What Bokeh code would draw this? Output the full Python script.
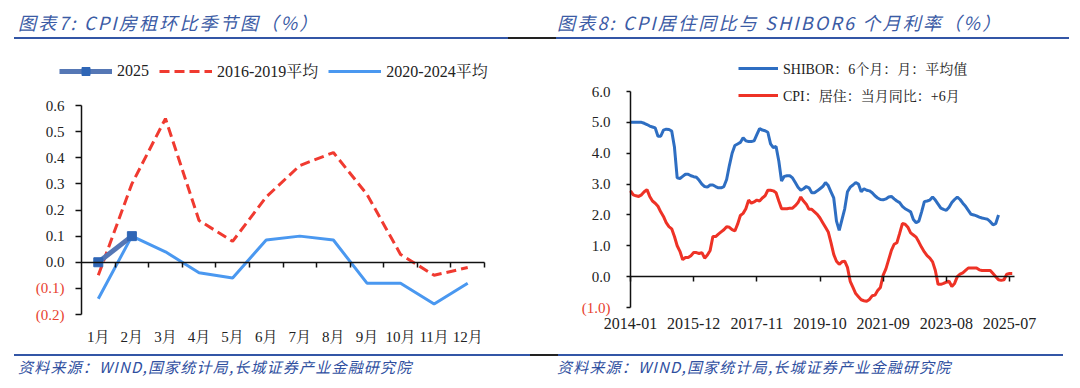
import numpy as np
from bokeh.plotting import figure
from bokeh.models import (ColumnDataSource, Legend, LegendItem, FixedTicker, LinearAxis,
                          Label, Div, Range1d, CustomJSTickFormatter)
from bokeh.layouts import column, row
from bokeh.embed import file_html
from bokeh.resources import INLINE

# ---------------- Left chart data: CPI rent m/m seasonal pattern (%)
month_labels = ["1月", "2月", "3月", "4月", "5月", "6月", "7月", "8月", "9月", "10月", "11月", "12月"]
rent_2025 = [0.0, 0.1]
rent_avg_2016_2019 = [-0.05, 0.30, 0.55, 0.16, 0.08, 0.25, 0.37, 0.42, 0.26, 0.03, -0.05, -0.02]
rent_avg_2020_2024 = [-0.14, 0.10, 0.04, -0.04, -0.06, 0.085, 0.10, 0.085, -0.08, -0.08, -0.16, -0.08]
left_yticks = [-0.2, -0.1, 0.0, 0.1, 0.2, 0.3, 0.4, 0.5, 0.6]
left_ytick_labels = ["(0.2)", "(0.1)", "0.0", "0.1", "0.2", "0.3", "0.4", "0.5", "0.6"]
left_names = ["2025", "2016-2019平均", "2020-2024平均"]

# ---------------- Right chart data: monthly from 2014-01
start_year, start_month = 2014, 1
shibor_6m = [
    5.00, 5.00, 5.00, 5.00, 5.00, 4.97, 4.93, 4.88, 4.85, 4.82,
    4.55, 4.55, 4.75, 4.78, 4.77, 4.72, 4.20, 3.20, 3.18, 3.25,
    3.32, 3.32, 3.27, 3.24, 3.22, 3.12, 3.00, 2.92, 2.90, 2.97,
    2.97, 2.92, 2.88, 2.88, 2.92, 3.15, 3.60, 4.00, 4.25, 4.30,
    4.35, 4.50, 4.40, 4.38, 4.38, 4.40, 4.60, 4.80, 4.75, 4.73,
    4.68, 4.30, 4.18, 4.22, 3.75, 3.10, 3.25, 3.27, 3.27, 3.20,
    3.05, 2.90, 2.80, 2.85, 2.92, 2.88, 2.72, 2.72, 2.78, 2.85,
    2.92, 3.05, 2.95, 2.75, 2.55, 1.80, 1.50, 1.85, 2.20, 2.75,
    2.90, 2.97, 3.05, 3.00, 2.75, 2.85, 2.80, 2.78, 2.72, 2.62,
    2.55, 2.50, 2.49, 2.52, 2.58, 2.60, 2.52, 2.45, 2.40, 2.28,
    2.20, 2.15, 2.10, 1.85, 1.75, 1.80, 2.10, 2.43, 2.45, 2.48,
    2.58, 2.48, 2.35, 2.22, 2.18, 2.15, 2.25, 2.40, 2.50, 2.58,
    2.50, 2.38, 2.28, 2.15, 2.02, 2.00, 1.97, 1.93, 1.90, 1.88,
    1.86, 1.78, 1.68, 1.72, 2.00,
]
cpi_housing_yoy_lead6 = [
    2.78, 2.65, 2.62, 2.60, 2.65, 2.75, 2.82, 2.60, 2.45, 2.38,
    2.28, 2.10, 1.95, 1.75, 1.62, 1.55, 1.30, 1.00, 0.82, 0.55,
    0.62, 0.62, 0.68, 0.78, 0.78, 0.75, 0.78, 0.60, 0.70, 0.85,
    1.30, 1.30, 1.38, 1.45, 1.52, 1.62, 1.60, 1.52, 1.48, 1.70,
    1.98, 2.05, 2.20, 2.48, 2.38, 2.42, 2.48, 2.45, 2.55, 2.62,
    2.80, 2.80, 2.78, 2.72, 2.45, 2.20, 2.20, 2.20, 2.22, 2.22,
    2.30, 2.40, 2.58, 2.45, 2.35, 2.18, 2.18, 2.10, 2.02, 1.90,
    1.75, 1.60, 1.45, 1.10, 0.72, 0.50, 0.40, 0.48, 0.50, 0.30,
    -0.15, -0.35, -0.55, -0.65, -0.75, -0.78, -0.80, -0.74, -0.62, -0.60,
    -0.45, -0.35, 0.05, 0.25, 0.55, 0.85, 1.05, 1.10, 1.40, 1.72,
    1.70, 1.60, 1.42, 1.35, 1.28, 1.12, 0.95, 0.80, 0.68, 0.60,
    0.48, 0.20, -0.25, -0.25, -0.22, -0.18, -0.15, -0.32, -0.22, 0.00,
    0.08, 0.12, 0.20, 0.28, 0.28, 0.28, 0.28, 0.22, 0.20, 0.20,
    0.20, 0.20, 0.10, 0.00, -0.10, -0.12, -0.10, 0.08, 0.10, 0.10,
]
right_xtick_labels = ["2014-01", "2015-12", "2017-11", "2019-10", "2021-09", "2023-08", "2025-07"]
right_yticks = [-1, 0, 1, 2, 3, 4, 5, 6]
right_ytick_labels = ["(1.0)", "0.0", "1.0", "2.0", "3.0", "4.0", "5.0", "6.0"]
right_names = ["SHIBOR：6个月：月：平均值", "CPI：居住：当月同比：+6月"]

titles = ["图表7: CPI房租环比季节图（%）", "图表8: CPI居住同比与 SHIBOR6 个月利率（%）"]
source_text = "资料来源：WIND,国家统计局,长城证券产业金融研究院"

SERIF = "Liberation Serif, Noto Serif CJK SC, Noto Sans CJK SC"
TXT = "#222222"
NEG = "#E8412F"
AX = "#111111"

HEAD_H, FIG_H, FOOT_H = 45, 305, 38
FRAME_TOP, FRAME_BOTTOM = 5, 5   # frame covers nearly the whole panel; axes are fixed-location


def make_panel(width, frame_l, frame_r, axis_px, axis_val, ppu_x, ybot_page, ytop_page, yrng):
    """Figure whose frame spans most of the panel; axes are drawn at fixed data positions
    so that the legend and tick labels sit inside the frame."""
    x0 = axis_val - (axis_px - frame_l) / ppu_x
    x1 = axis_val + (frame_r - axis_px) / ppu_x
    ybot = ybot_page - HEAD_H
    ytop = ytop_page - HEAD_H
    frame_bottom_px = FIG_H - FRAME_BOTTOM
    ppu_y = (ybot - ytop) / (yrng[1] - yrng[0])
    y0 = yrng[0] - (frame_bottom_px - ybot) / ppu_y
    y1 = yrng[1] + (ytop - FRAME_TOP) / ppu_y
    p = figure(width=width, height=FIG_H, x_range=Range1d(x0, x1), y_range=Range1d(y0, y1),
               output_backend="svg", toolbar_location=None, y_axis_location=None,
               x_axis_location=None,
               min_border_left=frame_l, min_border_right=width - frame_r,
               min_border_top=FRAME_TOP, min_border_bottom=FRAME_BOTTOM)
    p.outline_line_color = None
    p.xgrid.visible = False
    p.ygrid.visible = False
    p.background_fill_color = "white"
    p.border_fill_color = "white"
    return p


def style_axes(p, xloc, yticks, ylabels, xticks, xlabels, zero_ticks, xbounds,
               xfont, yfont, xstand, ytick_out, ystand):
    ya = LinearAxis(fixed_location=xloc, bounds=(min(yticks), max(yticks)),
                    ticker=FixedTicker(ticks=yticks))
    ya.major_label_overrides = {t: (l if not l.startswith("(") else "") for t, l in zip(yticks, ylabels)}
    ya.axis_line_color = AX
    ya.axis_line_width = 1.5
    ya.major_tick_line_color = AX
    ya.major_tick_line_width = 1.5
    ya.major_tick_out = ytick_out
    ya.major_tick_in = 0
    ya.minor_tick_line_color = None
    ya.major_label_standoff = ystand
    ya.major_label_text_font = SERIF
    ya.major_label_text_font_size = yfont
    ya.major_label_text_color = TXT
    p.add_layout(ya, "left")
    for t, l in zip(yticks, ylabels):
        if l.startswith("("):
            p.add_layout(Label(x=xloc, y=t, x_offset=-(ytick_out + ystand), text=l,
                               text_align="right", text_baseline="middle", text_color=NEG,
                               text_font=SERIF, text_font_size=yfont))
    # category / date labels, drawn under the bottom of the value range
    xa = LinearAxis(fixed_location=min(yticks), ticker=FixedTicker(ticks=xticks))
    xa.major_label_overrides = {t: l for t, l in zip(xticks, xlabels)}
    xa.axis_line_color = None
    xa.major_tick_line_color = None
    xa.minor_tick_line_color = None
    xa.major_tick_out = 0
    xa.major_tick_in = 0
    xa.major_label_standoff = xstand
    xa.major_label_text_font = SERIF
    xa.major_label_text_font_size = xfont
    xa.major_label_text_color = TXT
    p.add_layout(xa, "below")
    # zero line with tick marks
    za = LinearAxis(fixed_location=0, bounds=xbounds, ticker=FixedTicker(ticks=zero_ticks),
                    formatter=CustomJSTickFormatter(code="return ''"))
    za.axis_line_color = AX
    za.axis_line_width = 1.5
    za.major_tick_line_color = AX
    za.major_tick_line_width = 1.5
    za.major_tick_out = 5
    za.major_tick_in = 0
    za.minor_tick_line_color = None
    za.major_label_text_font_size = "1px"
    p.add_layout(za, "below")


# ---------------- left figure (page x 0..545)
xl = np.arange(1, len(month_labels) + 1)
p1 = make_panel(545, 22, 541, 81, 0.5, (484 - 81) / 12, 314, 105, (-0.2, 0.6))
style_axes(p1, 0.5, left_yticks, left_ytick_labels, list(xl), month_labels,
           list(np.arange(1.5, 13, 1.0)), (0.5, 12.5), "15px", "15px", 14, 6, 11)

src_a = ColumnDataSource(dict(x=xl, y=rent_avg_2016_2019))
src_b = ColumnDataSource(dict(x=xl, y=rent_avg_2020_2024))
src_c = ColumnDataSource(dict(x=xl[:len(rent_2025)], y=rent_2025))
r_b = p1.line("x", "y", source=src_b, line_color="#4A98F0", line_width=3)
r_a = p1.line("x", "y", source=src_a, line_color="#F03A30", line_width=3, line_dash="10 5")
r_c = p1.line("x", "y", source=src_c, line_color="#5577B5", line_width=5)
r_cm = p1.scatter("x", "y", source=src_c, marker="square", size=9, fill_color="#2F66B6",
                  line_color="#2F66B6")
FB = HEAD_H + FIG_H - FRAME_BOTTOM   # page y of frame bottom
leg1 = Legend(items=[LegendItem(label=left_names[0], renderers=[r_c, r_cm]),
                     LegendItem(label=left_names[1], renderers=[r_a]),
                     LegendItem(label=left_names[2], renderers=[r_b])],
              orientation="horizontal", location=(59 - 22, FB - 82), glyph_width=53,
              glyph_height=20, label_standoff=5, spacing=10, padding=0, margin=0,
              label_text_font=SERIF, label_text_font_size="16px", label_text_color=TXT,
              border_line_color=None, background_fill_alpha=0)
p1.add_layout(leg1, "center")

# ---------------- right figure (page x 545..1080)
xr = np.arange(len(cpi_housing_yoy_lead6))
xs = np.arange(len(shibor_6m))
tick_pos = [(int(s[:4]) - start_year) * 12 + int(s[5:]) - start_month for s in right_xtick_labels]
OFF = 545
p2 = make_panel(535, 560 - OFF, 1076 - OFF, 630 - OFF, 0, (1009 - 630) / tick_pos[-1],
                307, 91, (-1, 6))
style_axes(p2, 0, right_yticks, right_ytick_labels, tick_pos, right_xtick_labels,
           tick_pos, (0, len(cpi_housing_yoy_lead6)), "16px", "15px", 10, 4, 16)
src_s = ColumnDataSource(dict(x=xs, y=shibor_6m))
src_r = ColumnDataSource(dict(x=xr, y=cpi_housing_yoy_lead6))
r_s = p2.line("x", "y", source=src_s, line_color="#2E6EC2", line_width=3)
r_r = p2.line("x", "y", source=src_r, line_color="#EE3226", line_width=3)
leg2 = Legend(items=[LegendItem(label=right_names[0], renderers=[r_s]),
                     LegendItem(label=right_names[1], renderers=[r_r])],
              orientation="vertical", location=(738 - 560, FB - 105), glyph_width=40,
              glyph_height=20, label_standoff=5, spacing=7, padding=0, margin=0,
              label_text_font=SERIF, label_text_font_size="14px", label_text_color=TXT,
              border_line_color=None, background_fill_alpha=0)
p2.add_layout(leg2, "center")

# ---------------- header and footer
BLUE = "#3356A6"
TSTYLE = ("position:absolute;top:11px;font-size:18px;line-height:22px;font-style:italic;"
          "color:#3B5BA5;letter-spacing:2.2px;white-space:nowrap;")
FSTYLE = ("position:absolute;top:7px;font-size:15px;line-height:20px;font-style:italic;"
          "color:#2F4F9F;letter-spacing:1.2px;white-space:nowrap;")
head_html = f"""
<div style="position:relative;width:1080px;height:{HEAD_H}px;font-family:'Noto Sans CJK SC',sans-serif;">
  <div style="{TSTYLE}left:18px;">{titles[0]}</div>
  <div style="{TSTYLE}left:557px;">{titles[1]}</div>
  <div style="position:absolute;left:14px;top:37px;width:494px;height:2px;background:{BLUE};"></div>
  <div style="position:absolute;left:508px;top:37px;width:48px;height:2px;background:#222;"></div>
  <div style="position:absolute;left:556px;top:37px;width:513px;height:2px;background:{BLUE};"></div>
</div>"""
foot_html = f"""
<div style="position:relative;width:1080px;height:{FOOT_H}px;overflow:visible;font-family:'Noto Sans CJK SC',sans-serif;">
  <div style="position:absolute;left:14px;top:4px;width:516px;height:2px;background:{BLUE};"></div>
  <div style="position:absolute;left:530px;top:4px;width:28px;height:2px;background:#222;"></div>
  <div style="position:absolute;left:558px;top:4px;width:505px;height:2px;background:{BLUE};"></div>
  <div style="{FSTYLE}left:18px;">{source_text}</div>
  <div style="{FSTYLE}left:557px;">{source_text}</div>
</div>"""
head = Div(text=head_html, width=1080, height=HEAD_H, margin=(0, 0, 0, 0))
foot = Div(text=foot_html, width=1080, height=FOOT_H, margin=(0, 0, 0, 0))

layout = column(head, row(p1, p2, spacing=0), foot, spacing=0)
open("out.html", "w").write(file_html(layout, INLINE))
